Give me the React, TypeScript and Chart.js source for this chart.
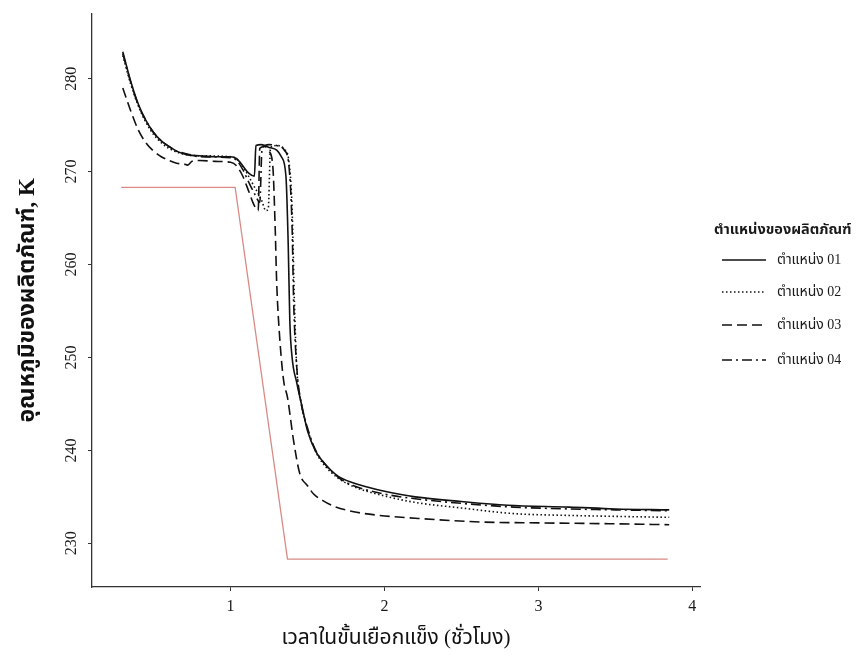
import React, { useEffect, useRef } from "react";
import { Chart, registerables } from "chart.js";
Chart.register(...registerables);

// ---- data ----
const xTickValues = [1, 2, 3, 4];
const yTickValues = [230, 240, 250, 260, 270, 280];

const xTitle = "เวลาในขั้นเยือกแข็ง (ชั่วโมง)";
const yTitle = "อุณหภูมิของผลิตภัณฑ์, K";
const legendTitle = "ตำแหน่งของผลิตภัณฑ์";
const seriesLabels = ["ตำแหน่ง 01", "ตำแหน่ง 02", "ตำแหน่ง 03", "ตำแหน่ง 04"];

// shelf / set-point temperature (red)
const setX = [0.29, 1.03, 1.37, 3.84];
const setY = [268.3, 268.3, 228.3, 228.3];

const p01X = [0.3, 0.35, 0.4, 0.45, 0.5, 0.55, 0.6, 0.65, 0.72, 0.8, 0.9, 1.0, 1.04, 1.08, 1.12, 1.155, 1.165, 1.2, 1.25, 1.3, 1.33, 1.36, 1.375, 1.385, 1.4, 1.43, 1.47, 1.5, 1.55, 1.6, 1.7, 1.8, 1.9, 2.0, 2.2, 2.5, 2.8, 3.2, 3.5, 3.85];
const p01Y = [282.9, 279.8, 277.3, 275.5, 274.2, 273.3, 272.7, 272.2, 271.8, 271.7, 271.6, 271.6, 271.4, 270.6, 269.8, 269.5, 272.8, 272.9, 272.6, 272.3, 271.6, 269.5, 262, 254, 250, 247.3, 244.3, 242.1, 240.0, 238.8, 237.2, 236.5, 236.0, 235.6, 235.0, 234.5, 234.1, 233.9, 233.7, 233.6];

const p02X = [0.3, 0.35, 0.4, 0.45, 0.5, 0.55, 0.6, 0.65, 0.72, 0.8, 1.0, 1.05, 1.1, 1.15, 1.2, 1.23, 1.245, 1.26, 1.3, 1.35, 1.38, 1.4, 1.415, 1.43, 1.46, 1.5, 1.55, 1.6, 1.7, 1.8, 2.0, 2.2, 2.5, 2.84, 3.2, 3.5, 3.85];
const p02Y = [282.5, 279.5, 277.1, 275.3, 274.0, 273.1, 272.5, 272.1, 271.8, 271.7, 271.6, 271.2, 270.0, 268.5, 267.0, 265.8, 266.0, 272.6, 272.8, 272.4, 271.0, 266.0, 256.0, 249.0, 245.0, 242.3, 240.0, 238.6, 237.0, 236.1, 235.1, 234.4, 233.8, 233.2, 233.0, 232.9, 232.8];

const p03X = [0.3, 0.35, 0.4, 0.45, 0.5, 0.55, 0.6, 0.65, 0.7, 0.72, 0.75, 0.8, 0.9, 1.0, 1.04, 1.08, 1.12, 1.15, 1.18, 1.19, 1.22, 1.25, 1.275, 1.29, 1.3, 1.32, 1.345, 1.37, 1.41, 1.45, 1.5, 1.54, 1.6, 1.67, 1.8, 1.97, 2.2, 2.62, 3.0, 3.5, 3.85];
const p03Y = [279.0, 276.6, 274.5, 273.1, 272.2, 271.6, 271.2, 270.9, 270.8, 270.7, 271.1, 271.2, 271.1, 271.0, 270.6, 269.5, 267.8, 266.5, 265.8, 272.5, 272.7, 272.2, 270.5, 264.0, 258.0, 252.0, 247.5, 245.7, 241.0, 237.5, 236.2, 235.3, 234.6, 234.0, 233.4, 233.0, 232.7, 232.3, 232.2, 232.1, 232.0];

const p04X = [0.3, 0.35, 0.4, 0.45, 0.5, 0.55, 0.6, 0.65, 0.72, 0.8, 1.0, 1.04, 1.08, 1.12, 1.16, 1.19, 1.205, 1.25, 1.3, 1.35, 1.38, 1.4, 1.41, 1.43, 1.46, 1.5, 1.55, 1.6, 1.7, 1.8, 2.0, 2.2, 2.5, 2.84, 3.2, 3.5, 3.85];
const p04Y = [282.7, 279.7, 277.2, 275.5, 274.2, 273.3, 272.7, 272.2, 271.9, 271.6, 271.5, 271.2, 270.2, 268.8, 267.5, 266.7, 272.5, 272.9, 272.8, 272.3, 270.5, 264.0, 256.0, 249.0, 245.0, 242.4, 240.1, 238.8, 237.1, 236.2, 235.3, 234.8, 234.3, 233.9, 233.7, 233.6, 233.5];

const seriesX = [p01X, p02X, p03X, p04X];
const seriesY = [p01Y, p02Y, p03Y, p04Y];
const seriesDash: number[][] = [[], [1.5, 2.5], [10, 5], [10, 4, 2, 4]];

const FONT = "'Liberation Serif', 'Times New Roman', 'Noto Sans Thai', serif";

const toPoints = (xs: number[], ys: number[]) => xs.map((x, i) => ({ x, y: ys[i] }));

const legendPlugin = {
  id: "customLegend",
  afterDraw(chart: any) {
    const ctx = chart.ctx;
    ctx.save();
    ctx.fillStyle = "#1a1a1a";
    ctx.textBaseline = "middle";
    ctx.textAlign = "left";
    // fit legend title into the available width
    let size = 16;
    ctx.font = `bold ${size}px ${FONT}`;
    while (ctx.measureText(legendTitle).width > 138 && size > 9) {
      size -= 0.5;
      ctx.font = `bold ${size}px ${FONT}`;
    }
    ctx.fillText(legendTitle, 714, 230);
    const ys = [260, 292, 325, 360];
    seriesLabels.forEach((lab, i) => {
      ctx.beginPath();
      ctx.setLineDash(seriesDash[i]);
      ctx.strokeStyle = "#111";
      ctx.lineWidth = 1.6;
      ctx.moveTo(722, ys[i]);
      ctx.lineTo(766, ys[i]);
      ctx.stroke();
      ctx.setLineDash([]);
      ctx.font = `14px ${FONT}`;
      ctx.fillText(lab, 777, ys[i]);
    });
    ctx.restore();
  },
};

export default function App() {
  const ref = useRef<HTMLCanvasElement | null>(null);
  useEffect(() => {
    document.body.style.margin = "0";
    const datasets: any[] = [
      {
        label: "setpoint",
        data: toPoints(setX, setY),
        borderColor: "#d98a86",
        borderWidth: 1.3,
        pointRadius: 0,
        tension: 0,
      },
      ...seriesLabels.map((lab, i) => ({
        label: lab,
        data: toPoints(seriesX[i], seriesY[i]),
        borderColor: "#111",
        borderWidth: 1.6,
        borderDash: seriesDash[i],
        pointRadius: 0,
        cubicInterpolationMode: "monotone",
      })),
    ];
    const chart = new Chart(ref.current as HTMLCanvasElement, {
      type: "line",
      data: { datasets },
      plugins: [legendPlugin],
      options: {
        animation: false,
        responsive: false,
        maintainAspectRatio: false,
        parsing: false as any,
        layout: { padding: { left: 0, right: 156, top: 11, bottom: 0 } },
        plugins: { legend: { display: false }, tooltip: { enabled: false } },
        scales: {
          x: {
            type: "linear",
            min: 0.1,
            max: 4.05,
            afterBuildTicks: (s: any) => {
              s.ticks = xTickValues.map((v) => ({ value: v }));
            },
            afterFit: (s: any) => {
              s.height = 72;
            },
            border: { display: true, color: "#333", width: 1.3 },
            grid: { drawOnChartArea: false, drawTicks: true, tickLength: 4, color: "#333" },
            ticks: {
              color: "#1a1a1a",
              font: { family: FONT, size: 16 },
              padding: 6,
              maxRotation: 0,
              minRotation: 0,
              callback: (v: any) => String(v),
            },
            title: {
              display: true,
              text: xTitle,
              color: "#111",
              font: { family: FONT, size: 21 },
              padding: { top: 0, bottom: 8 },
            },
          },
          y: {
            type: "linear",
            min: 225.3,
            max: 287,
            afterBuildTicks: (s: any) => {
              s.ticks = yTickValues.map((v) => ({ value: v }));
            },
            afterFit: (s: any) => {
              s.width = 92;
            },
            border: { display: true, color: "#333", width: 1.3 },
            grid: { drawOnChartArea: false, drawTicks: true, tickLength: 4, color: "#333" },
            ticks: {
              color: "#1a1a1a",
              font: { family: FONT, size: 16 },
              padding: 4,
              minRotation: 90,
              maxRotation: 90,
              crossAlign: "center",
              callback: (v: any) => String(v),
            },
            title: {
              display: true,
              text: yTitle,
              color: "#111",
              font: { family: FONT, size: 23, weight: "bold" },
              padding: { top: 14, bottom: 0 },
            },
          },
        },
      } as any,
    });
    return () => chart.destroy();
  }, []);
  return (
    <div style={{ position: "fixed", left: 0, top: 0, width: 856, height: 659, background: "#fff" }}>
      <canvas ref={ref} width={856} height={659} style={{ width: 856, height: 659 }} />
    </div>
  );
}
